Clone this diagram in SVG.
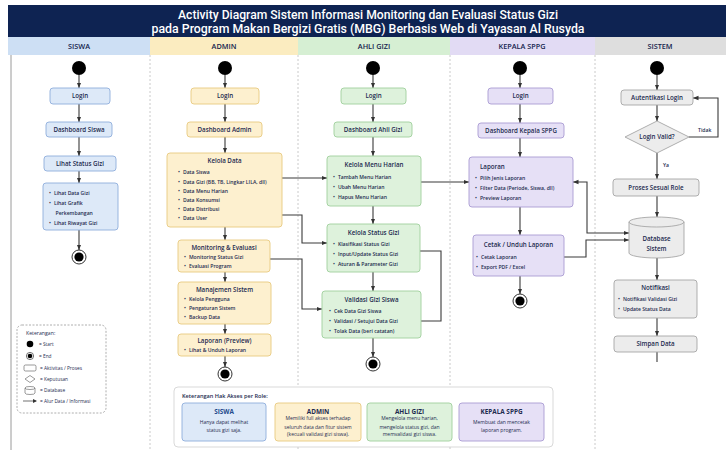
<svg xmlns="http://www.w3.org/2000/svg" width="726" height="450" viewBox="0 0 726 450">
<defs>
<style>
text{font-family:"Open Sans","Noto Sans","DejaVu Sans",sans-serif;fill:#1d2b4f}
.ttl{font-family:Roboto,"Liberation Sans",sans-serif;fill:#fff;font-size:12.5px;font-weight:500;text-anchor:middle}
.hd{font-size:7.3px;font-weight:600;text-anchor:middle;fill:#14244d}
.nt{font-size:6.2px;font-weight:600;text-anchor:middle}
.it{font-size:5.1px;font-weight:600}
.lg{font-size:4.8px;font-weight:500}
.rt{font-size:6.4px;font-weight:700;text-anchor:middle}
.rd{font-size:5px;font-weight:500;text-anchor:middle}
.c{fill:none;stroke:#3a3a3a;stroke-width:1.1}
.ca{fill:none;stroke:#3a3a3a;stroke-width:1.1;marker-end:url(#ah)}
.sep{stroke:#bdbdbd;stroke-width:0.8;stroke-dasharray:2 2}
.siswa{fill:#dde9f8;stroke:#8eaedb;stroke-width:0.9}
.admin{fill:#fdf0cf;stroke:#e8c980;stroke-width:0.9}
.ahli{fill:#def2dc;stroke:#9fcf9c;stroke-width:0.9}
.kepala{fill:#e6e0f6;stroke:#a99bd2;stroke-width:0.9}
.sistem{fill:#ececec;stroke:#a6a6a6;stroke-width:0.9}
.start{fill:#000}
.endo{fill:#fff;stroke:#333;stroke-width:1}
.endi{fill:#000}
</style>
<marker id="ah" viewBox="0 0 10 10" refX="10" refY="5" markerWidth="5.5" markerHeight="5.5" orient="auto-start-reverse" markerUnits="userSpaceOnUse"><path d="M0,1 L10,5 L0,9 z" fill="#333"/></marker>
</defs>

<!-- background -->
<rect x="0" y="0" width="726" height="450" fill="#fff"/>
<rect x="8" y="5" width="718" height="32" fill="#0e2352"/>
<text class="ttl" x="368" y="19" textLength="380" lengthAdjust="spacingAndGlyphs">Activity Diagram Sistem Informasi Monitoring dan Evaluasi Status Gizi</text>
<text class="ttl" x="368" y="33" textLength="433" lengthAdjust="spacingAndGlyphs">pada Program Makan Bergizi Gratis (MBG) Berbasis Web di Yayasan Al Rusyda</text>

<!-- lane headers -->
<g id="lanes">
<rect x="8" y="37" width="142" height="18" fill="#cddff4"/>
<rect x="150" y="37" width="148" height="18" fill="#fbecc0"/>
<rect x="298" y="37" width="152" height="18" fill="#d6efd3"/>
<rect x="450" y="37" width="145" height="18" fill="#e2dbf4"/>
<rect x="595" y="37" width="131" height="18" fill="#dedede"/>
<text class="hd" x="79" y="48.5">SISWA</text>
<text class="hd" x="224" y="48.5">ADMIN</text>
<text class="hd" x="374" y="48.5">AHLI GIZI</text>
<text class="hd" x="522" y="48.5">KEPALA SPPG</text>
<text class="hd" x="660" y="48.5">SISTEM</text>
<line x1="11" y1="55" x2="11" y2="450" stroke="#9a9a9a" stroke-width="1"/>
<line class="sep" x1="150" y1="55" x2="150" y2="450"/>
<line class="sep" x1="298" y1="55" x2="298" y2="450"/>
<line class="sep" x1="450" y1="55" x2="450" y2="450"/>
<line class="sep" x1="595" y1="55" x2="595" y2="450"/>
</g>

<!-- connectors -->
<g id="connectors">
<!-- SISWA -->
<path class="ca" d="M79,75 V88"/>
<path class="ca" d="M79,104 V122"/>
<path class="ca" d="M79,137 V156"/>
<path class="ca" d="M79,171 V183"/>
<path class="ca" d="M79,230 V250"/>
<!-- ADMIN -->
<path class="ca" d="M225,75 V88"/>
<path class="ca" d="M225,104 V122"/>
<path class="ca" d="M225,137 V153"/>
<path class="ca" d="M225,227 V240"/>
<path class="ca" d="M225,272 V282"/>
<path class="ca" d="M225,324 V334"/>
<path class="ca" d="M225,356 V367"/>
<path class="ca" d="M282,178 H327"/>
<path class="ca" d="M282,215 H302 V243 H327"/>
<path class="ca" d="M270,259 H302 V309 H322"/>
<!-- AHLI GIZI -->
<path class="ca" d="M373,75 V88"/>
<path class="ca" d="M373,104 V122"/>
<path class="ca" d="M373,137 V156"/>
<path class="ca" d="M373,206 V224"/>
<path class="ca" d="M373,272 V291"/>
<path class="ca" d="M373,338 V357"/>
<path class="ca" d="M421,182 H469"/>
<path class="c" d="M420,251 H441 V321 H421"/>
<!-- KEPALA SPPG -->
<path class="ca" d="M520,75 V88"/>
<path class="ca" d="M520,104 V123"/>
<path class="ca" d="M520,138 V157"/>
<path class="ca" d="M520,207 V235"/>
<path class="ca" d="M520,276 V294"/>
<path class="ca" d="M629,233 H587 V182 H573" style="marker-start:url(#ah)"/>
<path class="ca" d="M564,257 H586 V240 H629"/>
<!-- SISTEM -->
<path class="ca" d="M657,75 V90"/>
<path class="ca" d="M657,105 V121"/>
<path class="ca" d="M657,153 V179"/>
<path class="ca" d="M657,196 V217"/>
<path class="ca" d="M657,258 V280"/>
<path class="ca" d="M657,318 V336"/>
<path class="c" d="M657,352 V362"/>
<path class="ca" d="M689,137 H718 V98 H693"/>
<text class="it" x="698" y="132">Tidak</text>
<text class="it" x="663" y="167">Ya</text>
</g>

<!-- SISWA nodes -->
<g id="siswa-start"><circle class="start" cx="79" cy="68" r="7"/></g>
<g id="siswa-login"><rect class="siswa" x="50" y="88" width="60" height="16" rx="3"/><text class="nt" x="80" y="98.3">Login</text></g>
<g id="siswa-dashboard"><rect class="siswa" x="46" y="122" width="66" height="15" rx="3"/><text class="nt" x="79" y="131.8">Dashboard Siswa</text></g>
<g id="siswa-status"><rect class="siswa" x="44" y="156" width="72" height="15" rx="3"/><text class="nt" x="80" y="165.8">Lihat Status Gizi</text></g>
<g id="siswa-list"><rect class="siswa" x="43" y="183" width="75" height="47" rx="3"/>
<text class="it" x="49" y="194.5">•<tspan dx="3">Lihat Data Gizi</tspan></text>
<text class="it" x="49" y="204.5">•<tspan dx="3">Lihat Grafik</tspan></text>
<text class="it" x="55.5" y="214.5">Perkembangan</text>
<text class="it" x="49" y="225">•<tspan dx="3">Lihat Riwayat Gizi</tspan></text></g>
<g id="siswa-end"><circle class="endo" cx="79" cy="257" r="7"/><circle class="endi" cx="79" cy="257" r="4.6"/></g>

<!-- ADMIN nodes -->
<g id="admin-start"><circle class="start" cx="225" cy="68" r="7"/></g>
<g id="admin-login"><rect class="admin" x="191" y="88" width="68" height="16" rx="3"/><text class="nt" x="225" y="98.3">Login</text></g>
<g id="admin-dashboard"><rect class="admin" x="187" y="122" width="75" height="15" rx="3"/><text class="nt" x="224.5" y="131.8">Dashboard Admin</text></g>
<g id="admin-kelola"><rect class="admin" x="167" y="153" width="115" height="74" rx="3"/>
<text class="nt" x="224.5" y="162.5">Kelola Data</text>
<text class="it" x="178" y="174">•<tspan dx="3">Data Siswa</tspan></text>
<text class="it" x="178" y="183.5">•<tspan dx="3">Data Gizi (BB, TB, Lingkar LILA, dll)</tspan></text>
<text class="it" x="178" y="192.5">•<tspan dx="3">Data Menu Harian</tspan></text>
<text class="it" x="178" y="201.5">•<tspan dx="3">Data Konsumsi</tspan></text>
<text class="it" x="178" y="210.7">•<tspan dx="3">Data Distribusi</tspan></text>
<text class="it" x="178" y="220">•<tspan dx="3">Data User</tspan></text></g>
<g id="admin-monitoring"><rect class="admin" x="178" y="240" width="92" height="32" rx="3"/>
<text class="nt" x="224" y="249.5">Monitoring &amp; Evaluasi</text>
<text class="it" x="184" y="258.5">•<tspan dx="3">Monitoring Status Gizi</tspan></text>
<text class="it" x="184" y="268">•<tspan dx="3">Evaluasi Program</tspan></text></g>
<g id="admin-manajemen"><rect class="admin" x="178" y="282" width="93" height="42" rx="3"/>
<text class="nt" x="224.5" y="291.5">Manajemen Sistem</text>
<text class="it" x="184" y="301">•<tspan dx="3">Kelola Pengguna</tspan></text>
<text class="it" x="184" y="310">•<tspan dx="3">Pengaturan Sistem</tspan></text>
<text class="it" x="184" y="319">•<tspan dx="3">Backup Data</tspan></text></g>
<g id="admin-laporan"><rect class="admin" x="178" y="334" width="93" height="22" rx="3"/>
<text class="nt" x="224.5" y="342.5">Laporan (Preview)</text>
<text class="it" x="184" y="352">•<tspan dx="3">Lihat &amp; Unduh Laporan</tspan></text></g>
<g id="admin-end"><circle class="endo" cx="225" cy="374" r="7"/><circle class="endi" cx="225" cy="374" r="4.6"/></g>

<!-- AHLI GIZI nodes -->
<g id="ahli-start"><circle class="start" cx="373" cy="68" r="7"/></g>
<g id="ahli-login"><rect class="ahli" x="341" y="88" width="65" height="16" rx="3"/><text class="nt" x="373.5" y="98.3">Login</text></g>
<g id="ahli-dashboard"><rect class="ahli" x="334" y="122" width="78" height="15" rx="3"/><text class="nt" x="373" y="131.8">Dashboard Ahli Gizi</text></g>
<g id="ahli-menu"><rect class="ahli" x="327" y="156" width="94" height="50" rx="3"/>
<text class="nt" x="374" y="167">Kelola Menu Harian</text>
<text class="it" x="333" y="179">•<tspan dx="3">Tambah Menu Harian</tspan></text>
<text class="it" x="333" y="189">•<tspan dx="3">Ubah Menu Harian</tspan></text>
<text class="it" x="333" y="199">•<tspan dx="3">Hapus Menu Harian</tspan></text></g>
<g id="ahli-status"><rect class="ahli" x="327" y="224" width="93" height="48" rx="3"/>
<text class="nt" x="373.5" y="235">Kelola Status Gizi</text>
<text class="it" x="333" y="246">•<tspan dx="3">Klasifikasi Status Gizi</tspan></text>
<text class="it" x="333" y="256">•<tspan dx="3">Input/Update Status Gizi</tspan></text>
<text class="it" x="333" y="266">•<tspan dx="3">Aturan &amp; Parameter Gizi</tspan></text></g>
<g id="ahli-validasi"><rect class="ahli" x="322" y="291" width="99" height="47" rx="3"/>
<text class="nt" x="371.5" y="302">Validasi Gizi Siswa</text>
<text class="it" x="329" y="313">•<tspan dx="3">Cek Data Gizi Siswa</tspan></text>
<text class="it" x="329" y="323">•<tspan dx="3">Validasi / Setujui Data Gizi</tspan></text>
<text class="it" x="329" y="333">•<tspan dx="3">Tolak Data (beri catatan)</tspan></text></g>
<g id="ahli-end"><circle class="endo" cx="373" cy="364" r="7"/><circle class="endi" cx="373" cy="364" r="4.6"/></g>

<!-- KEPALA SPPG nodes -->
<g id="kepala-start"><circle class="start" cx="520" cy="68" r="7"/></g>
<g id="kepala-login"><rect class="kepala" x="488" y="88" width="65" height="16" rx="3"/><text class="nt" x="520.5" y="98.3">Login</text></g>
<g id="kepala-dashboard"><rect class="kepala" x="478" y="123" width="86" height="15" rx="3"/><text class="nt" x="521" y="132.8">Dashboard Kepala SPPG</text></g>
<g id="kepala-laporan"><rect class="kepala" x="469" y="157" width="104" height="50" rx="3"/>
<text class="nt" x="480" y="169" style="text-anchor:start">Laporan</text>
<text class="it" x="475" y="180">•<tspan dx="3">Pilih Jenis Laporan</tspan></text>
<text class="it" x="475" y="189.5">•<tspan dx="3">Filter Data (Periode, Siswa, dll)</tspan></text>
<text class="it" x="475" y="199.5">•<tspan dx="3">Preview Laporan</tspan></text></g>
<g id="kepala-cetak"><rect class="kepala" x="473" y="235" width="91" height="41" rx="3"/>
<text class="nt" x="518.5" y="247">Cetak / Unduh Laporan</text>
<text class="it" x="476" y="259">•<tspan dx="3">Cetak Laporan</tspan></text>
<text class="it" x="476" y="268.5">•<tspan dx="3">Export PDF / Excel</tspan></text></g>
<g id="kepala-end"><circle class="endo" cx="520" cy="301" r="7"/><circle class="endi" cx="520" cy="301" r="4.6"/></g>

<!-- SISTEM nodes -->
<g id="sistem-start"><circle class="start" cx="657" cy="68" r="7"/></g>
<g id="sistem-auth"><rect class="sistem" x="621" y="90" width="72" height="15" rx="3"/><text class="nt" x="657" y="99.8">Autentikasi Login</text></g>
<g id="sistem-valid"><polygon class="sistem" points="657,121 689,137 657,153 625,137"/><text class="nt" x="657" y="139">Login Valid?</text></g>
<g id="sistem-proses"><rect class="sistem" x="613" y="179" width="86" height="17" rx="3"/><text class="nt" x="656" y="189.8">Proses Sesuai Role</text></g>
<g id="sistem-db"><path class="sistem" d="M629,222 A27.5,5 0 0 1 684,222 V253 A27.5,5 0 0 1 629,253 Z"/><path d="M629,222 A27.5,5 0 0 0 684,222" fill="none" stroke="#a6a6a6" stroke-width="0.9"/>
<text class="nt" x="656.5" y="241">Database</text><text class="nt" x="656.5" y="250.5">Sistem</text></g>
<g id="sistem-notif"><rect class="sistem" x="614" y="280" width="83" height="38" rx="3"/>
<text class="nt" x="655.5" y="290">Notifikasi</text>
<text class="it" x="618" y="301">•<tspan dx="3">Notifikasi Validasi Gizi</tspan></text>
<text class="it" x="618" y="311">•<tspan dx="3">Update Status Data</tspan></text></g>
<g id="sistem-simpan"><rect class="sistem" x="614" y="336" width="83" height="16" rx="3"/><text class="nt" x="655.5" y="346">Simpan Data</text></g>

<!-- Legend -->
<g id="legend">
<rect x="17" y="325" width="89" height="88" rx="5" fill="#fff" stroke="#9a9a9a" stroke-width="0.8" stroke-dasharray="2 1.5"/>
<text class="lg" x="26" y="335" style="font-size:5.2px">Keterangan:</text>
<circle cx="30" cy="344" r="3.3" fill="#000"/>
<text class="lg" x="39" y="345.7">= Start</text>
<circle cx="30" cy="356" r="3.6" fill="#fff" stroke="#333" stroke-width="0.7"/><circle cx="30" cy="356" r="2.3" fill="#000"/>
<text class="lg" x="39" y="357.7">= End</text>
<rect x="24" y="365" width="12" height="6" rx="1.5" fill="#fff" stroke="#555" stroke-width="0.6"/>
<text class="lg" x="40" y="369.7">= Aktivitas / Proses</text>
<polygon points="30,375.5 35,379 30,382.5 25,379" fill="#fff" stroke="#555" stroke-width="0.6"/>
<text class="lg" x="40" y="380.7">= Keputusan</text>
<path d="M25,388 A5,1.5 0 0 1 35,388 V393 A5,1.5 0 0 1 25,393 Z M25,388 A5,1.5 0 0 0 35,388" fill="#fff" stroke="#555" stroke-width="0.6"/>
<text class="lg" x="40" y="391.7">= Database</text>
<line x1="23" y1="401" x2="36" y2="401" stroke="#333" stroke-width="0.7"/><path d="M33,399 L37,401 L33,403 z" fill="#333"/>
<text class="lg" x="40" y="402.7">= Alur Data / Informasi</text>
</g>

<!-- Role legend -->
<g id="role-legend">
<rect x="174" y="387" width="379" height="60" rx="4" fill="#fff" stroke="#cfcfcf" stroke-width="0.8"/>
<text x="182" y="397.5" style="font-size:5.6px;font-weight:600">Keterangan Hak Akses per Role:</text>
<rect class="siswa" x="182" y="403" width="84" height="38" rx="3"/>
<text class="rt" x="224" y="413.5" style="fill:#234a8c">SISWA</text>
<text class="rd" x="224" y="423.5">Hanya dapat melihat</text>
<text class="rd" x="224" y="432">status gizi saja.</text>
<rect class="admin" x="275" y="403" width="86" height="38" rx="3"/>
<text class="rt" x="318" y="413.5">ADMIN</text>
<text class="rd" x="318" y="420.3">Memiliki full akses terhadap</text>
<text class="rd" x="318" y="428.5">seluruh data dan fitur sistem</text>
<text class="rd" x="318" y="436.3">(kecuali validasi gizi siswa).</text>
<rect class="ahli" x="367" y="403" width="85" height="38" rx="3"/>
<text class="rt" x="409.5" y="413.5">AHLI GIZI</text>
<text class="rd" x="409.5" y="420.3">Mengelola menu harian,</text>
<text class="rd" x="409.5" y="428.5">mengelola status gizi, dan</text>
<text class="rd" x="409.5" y="436.3">memvalidasi gizi siswa.</text>
<rect class="kepala" x="459" y="403" width="85" height="38" rx="3"/>
<text class="rt" x="501.5" y="414">KEPALA SPPG</text>
<text class="rd" x="501.5" y="423.5">Membuat dan mencetak</text>
<text class="rd" x="501.5" y="432">laporan program.</text>
</g>
</svg>
